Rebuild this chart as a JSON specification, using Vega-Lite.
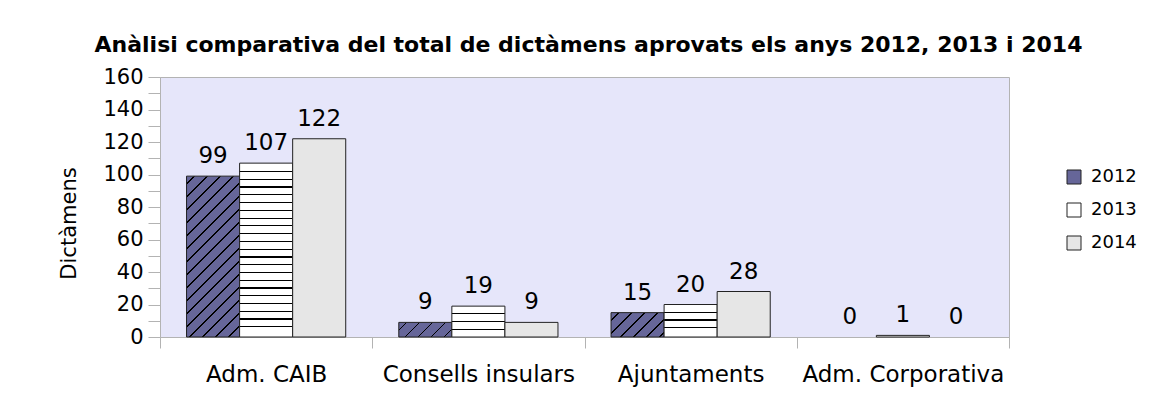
{
  "$schema": "https://vega.github.io/schema/vega-lite/v6.json",
  "width": 849,
  "height": 260,
  "autosize": {"type": "none"},
  "padding": {"left": 160, "top": 77, "right": 148, "bottom": 72},
  "background": "white",
  "title": {"text": "Anàlisi comparativa del total de dictàmens aprovats els anys 2012, 2013 i 2014", "font": "DejaVu Sans", "fontSize": 22, "fontWeight": "bold", "color": "#000000", "anchor": "middle", "offset": 9, "dx": 4},
  "config": {
    "view": {"fill": "#E6E6FA", "stroke": "#B3B3B3", "strokeWidth": 1},
    "axis": {"grid": false, "domainColor": "#B3B3B3", "tickColor": "#B3B3B3", "labelColor": "#000000", "titleColor": "#000000", "labelFont": "DejaVu Sans", "titleFont": "DejaVu Sans"}
  },
  "data": {"values": [
    {"cat": "Adm. CAIB", "year": "2012", "value": 99},
    {"cat": "Adm. CAIB", "year": "2013", "value": 107},
    {"cat": "Adm. CAIB", "year": "2014", "value": 122},
    {"cat": "Consells insulars", "year": "2012", "value": 9},
    {"cat": "Consells insulars", "year": "2013", "value": 19},
    {"cat": "Consells insulars", "year": "2014", "value": 9},
    {"cat": "Ajuntaments", "year": "2012", "value": 15},
    {"cat": "Ajuntaments", "year": "2013", "value": 20},
    {"cat": "Ajuntaments", "year": "2014", "value": 28},
    {"cat": "Adm. Corporativa", "year": "2012", "value": 0},
    {"cat": "Adm. Corporativa", "year": "2013", "value": 1},
    {"cat": "Adm. Corporativa", "year": "2014", "value": 0}
  ]},
  "encoding": {
    "x": {"field": "cat", "type": "nominal", "sort": ["Adm. CAIB", "Consells insulars", "Ajuntaments", "Adm. Corporativa"], "scale": {"paddingInner": 0, "paddingOuter": 0}, "title": null,
      "axis": {"labelAngle": 0, "labelFontSize": 23, "labelPadding": 15, "tickSize": 11, "tickBand": "extent", "labelLimit": 400, "labelOverlap": false, "domainColor": "#B3B3B3"}},
    "xOffset": {"field": "year", "type": "nominal", "scale": {"domain": ["2012", "2013", "2014"], "paddingInner": 0, "paddingOuter": 0.5}},
    "y": {"field": "value", "type": "quantitative", "scale": {"domain": [0, 160], "nice": false}, "title": "Dictàmens",
      "axis": {"values": [0, 10, 20, 30, 40, 50, 60, 70, 80, 90, 100, 110, 120, 130, 140, 150, 160], "labelExpr": "datum.value % 20 === 0 ? datum.label : ''", "labelFontSize": 21, "tickSize": 12, "labelPadding": 5, "titleFontSize": 21, "titleFontWeight": "normal", "titleAngle": -90, "titleX": -91, "titleY": 146, "titleAlign": "center", "titleBaseline": "middle"}}
  },
  "layer": [
    {
      "transform": [{"filter": "datum.value > 0"}],
      "mark": {"type": "bar", "stroke": "#222222", "strokeWidth": 1},
      "encoding": {
        "fill": {
          "field": "year", "type": "nominal",
          "scale": {"domain": ["2012", "2013", "2014"], "range": ["#666699", "#ffffff", "#e6e6e6"]},
          "legend": {"orient": "none", "legendX": 905, "legendY": 91, "title": null, "padding": 0, "symbolType": "square", "symbolSize": 196, "symbolStrokeColor": "#222222", "symbolStrokeWidth": 1, "labelFont": "DejaVu Sans", "labelFontSize": 18, "labelColor": "#000000", "labelOffset": 8, "rowPadding": 15,
            "encode": {"symbols": {"update": {
              "stroke": {"value": "#222222"},
              "strokeWidth": {"value": 1}
            }}}
          },
          "condition": [
            {"test": "datum.year === '2012' && datum.cat === 'Adm. CAIB'", "value": {"gradient": "linear", "x1": 0, "y1": 0, "x2": 0.3956, "y2": 1.1994, "stops": [
              {"offset": 0, "color": "#666699"},
              {"offset": 0.0327, "color": "#666699"}, {"offset": 0.0327, "color": "#000000"}, {"offset": 0.0402, "color": "#000000"}, {"offset": 0.0402, "color": "#666699"},
              {"offset": 0.0935, "color": "#666699"}, {"offset": 0.0935, "color": "#000000"}, {"offset": 0.1010, "color": "#000000"}, {"offset": 0.1010, "color": "#666699"},
              {"offset": 0.1543, "color": "#666699"}, {"offset": 0.1543, "color": "#000000"}, {"offset": 0.1618, "color": "#000000"}, {"offset": 0.1618, "color": "#666699"},
              {"offset": 0.2151, "color": "#666699"}, {"offset": 0.2151, "color": "#000000"}, {"offset": 0.2225, "color": "#000000"}, {"offset": 0.2225, "color": "#666699"},
              {"offset": 0.2758, "color": "#666699"}, {"offset": 0.2758, "color": "#000000"}, {"offset": 0.2833, "color": "#000000"}, {"offset": 0.2833, "color": "#666699"},
              {"offset": 0.3366, "color": "#666699"}, {"offset": 0.3366, "color": "#000000"}, {"offset": 0.3441, "color": "#000000"}, {"offset": 0.3441, "color": "#666699"},
              {"offset": 0.3974, "color": "#666699"}, {"offset": 0.3974, "color": "#000000"}, {"offset": 0.4049, "color": "#000000"}, {"offset": 0.4049, "color": "#666699"},
              {"offset": 0.4582, "color": "#666699"}, {"offset": 0.4582, "color": "#000000"}, {"offset": 0.4657, "color": "#000000"}, {"offset": 0.4657, "color": "#666699"},
              {"offset": 0.5190, "color": "#666699"}, {"offset": 0.5190, "color": "#000000"}, {"offset": 0.5265, "color": "#000000"}, {"offset": 0.5265, "color": "#666699"},
              {"offset": 0.5798, "color": "#666699"}, {"offset": 0.5798, "color": "#000000"}, {"offset": 0.5873, "color": "#000000"}, {"offset": 0.5873, "color": "#666699"},
              {"offset": 0.6405, "color": "#666699"}, {"offset": 0.6405, "color": "#000000"}, {"offset": 0.6480, "color": "#000000"}, {"offset": 0.6480, "color": "#666699"},
              {"offset": 0.7013, "color": "#666699"}, {"offset": 0.7013, "color": "#000000"}, {"offset": 0.7088, "color": "#000000"}, {"offset": 0.7088, "color": "#666699"},
              {"offset": 0.7621, "color": "#666699"}, {"offset": 0.7621, "color": "#000000"}, {"offset": 0.7696, "color": "#000000"}, {"offset": 0.7696, "color": "#666699"},
              {"offset": 0.8229, "color": "#666699"}, {"offset": 0.8229, "color": "#000000"}, {"offset": 0.8304, "color": "#000000"}, {"offset": 0.8304, "color": "#666699"},
              {"offset": 0.8837, "color": "#666699"}, {"offset": 0.8837, "color": "#000000"}, {"offset": 0.8912, "color": "#000000"}, {"offset": 0.8912, "color": "#666699"},
              {"offset": 0.9445, "color": "#666699"}, {"offset": 0.9445, "color": "#000000"}, {"offset": 0.9519, "color": "#000000"}, {"offset": 0.9519, "color": "#666699"},
              {"offset": 1, "color": "#666699"}]}},
            {"test": "datum.year === '2012' && datum.cat === 'Consells insulars'", "value": {"gradient": "linear", "x1": 0, "y1": 0, "x2": 1.1856, "y2": 0.3268, "stops": [
              {"offset": 0, "color": "#666699"},
              {"offset": 0.1034, "color": "#666699"}, {"offset": 0.1034, "color": "#000000"}, {"offset": 0.1271, "color": "#000000"}, {"offset": 0.1271, "color": "#666699"},
              {"offset": 0.2955, "color": "#666699"}, {"offset": 0.2955, "color": "#000000"}, {"offset": 0.3191, "color": "#000000"}, {"offset": 0.3191, "color": "#666699"},
              {"offset": 0.4875, "color": "#666699"}, {"offset": 0.4875, "color": "#000000"}, {"offset": 0.5111, "color": "#000000"}, {"offset": 0.5111, "color": "#666699"},
              {"offset": 0.6796, "color": "#666699"}, {"offset": 0.6796, "color": "#000000"}, {"offset": 0.7032, "color": "#000000"}, {"offset": 0.7032, "color": "#666699"},
              {"offset": 0.8716, "color": "#666699"}, {"offset": 0.8716, "color": "#000000"}, {"offset": 0.8953, "color": "#000000"}, {"offset": 0.8953, "color": "#666699"},
              {"offset": 1, "color": "#666699"}]}},
            {"test": "datum.year === '2012' && datum.cat === 'Ajuntaments'", "value": {"gradient": "linear", "x1": 0, "y1": 0, "x2": 1.2051, "y2": 0.5536, "stops": [
              {"offset": 0, "color": "#666699"},
              {"offset": 0.0904, "color": "#666699"}, {"offset": 0.0904, "color": "#000000"}, {"offset": 0.1111, "color": "#000000"}, {"offset": 0.1111, "color": "#666699"},
              {"offset": 0.2583, "color": "#666699"}, {"offset": 0.2583, "color": "#000000"}, {"offset": 0.2789, "color": "#000000"}, {"offset": 0.2789, "color": "#666699"},
              {"offset": 0.4261, "color": "#666699"}, {"offset": 0.4261, "color": "#000000"}, {"offset": 0.4468, "color": "#000000"}, {"offset": 0.4468, "color": "#666699"},
              {"offset": 0.5940, "color": "#666699"}, {"offset": 0.5940, "color": "#000000"}, {"offset": 0.6147, "color": "#000000"}, {"offset": 0.6147, "color": "#666699"},
              {"offset": 0.7619, "color": "#666699"}, {"offset": 0.7619, "color": "#000000"}, {"offset": 0.7825, "color": "#000000"}, {"offset": 0.7825, "color": "#666699"},
              {"offset": 0.9297, "color": "#666699"}, {"offset": 0.9297, "color": "#000000"}, {"offset": 0.9504, "color": "#000000"}, {"offset": 0.9504, "color": "#666699"},
              {"offset": 1, "color": "#666699"}]}},
            {"test": "datum.year === '2013' && datum.cat === 'Adm. CAIB'", "value": {"gradient": "linear", "x1": 0, "y1": 0, "x2": 0, "y2": 1, "stops": [
              {"offset": 0, "color": "#ffffff"},
              {"offset": 0.0447, "color": "#ffffff"}, {"offset": 0.0447, "color": "#000000"}, {"offset": 0.0516, "color": "#000000"}, {"offset": 0.0516, "color": "#ffffff"},
              {"offset": 0.0894, "color": "#ffffff"}, {"offset": 0.0894, "color": "#000000"}, {"offset": 0.0963, "color": "#000000"}, {"offset": 0.0963, "color": "#ffffff"},
              {"offset": 0.1340, "color": "#ffffff"}, {"offset": 0.1340, "color": "#000000"}, {"offset": 0.1409, "color": "#000000"}, {"offset": 0.1409, "color": "#ffffff"},
              {"offset": 0.1787, "color": "#ffffff"}, {"offset": 0.1787, "color": "#000000"}, {"offset": 0.1856, "color": "#000000"}, {"offset": 0.1856, "color": "#ffffff"},
              {"offset": 0.2234, "color": "#ffffff"}, {"offset": 0.2234, "color": "#000000"}, {"offset": 0.2303, "color": "#000000"}, {"offset": 0.2303, "color": "#ffffff"},
              {"offset": 0.2681, "color": "#ffffff"}, {"offset": 0.2681, "color": "#000000"}, {"offset": 0.2750, "color": "#000000"}, {"offset": 0.2750, "color": "#ffffff"},
              {"offset": 0.3128, "color": "#ffffff"}, {"offset": 0.3128, "color": "#000000"}, {"offset": 0.3197, "color": "#000000"}, {"offset": 0.3197, "color": "#ffffff"},
              {"offset": 0.3574, "color": "#ffffff"}, {"offset": 0.3574, "color": "#000000"}, {"offset": 0.3643, "color": "#000000"}, {"offset": 0.3643, "color": "#ffffff"},
              {"offset": 0.4021, "color": "#ffffff"}, {"offset": 0.4021, "color": "#000000"}, {"offset": 0.4090, "color": "#000000"}, {"offset": 0.4090, "color": "#ffffff"},
              {"offset": 0.4468, "color": "#ffffff"}, {"offset": 0.4468, "color": "#000000"}, {"offset": 0.4537, "color": "#000000"}, {"offset": 0.4537, "color": "#ffffff"},
              {"offset": 0.4915, "color": "#ffffff"}, {"offset": 0.4915, "color": "#000000"}, {"offset": 0.4984, "color": "#000000"}, {"offset": 0.4984, "color": "#ffffff"},
              {"offset": 0.5362, "color": "#ffffff"}, {"offset": 0.5362, "color": "#000000"}, {"offset": 0.5431, "color": "#000000"}, {"offset": 0.5431, "color": "#ffffff"},
              {"offset": 0.5808, "color": "#ffffff"}, {"offset": 0.5808, "color": "#000000"}, {"offset": 0.5877, "color": "#000000"}, {"offset": 0.5877, "color": "#ffffff"},
              {"offset": 0.6255, "color": "#ffffff"}, {"offset": 0.6255, "color": "#000000"}, {"offset": 0.6324, "color": "#000000"}, {"offset": 0.6324, "color": "#ffffff"},
              {"offset": 0.6702, "color": "#ffffff"}, {"offset": 0.6702, "color": "#000000"}, {"offset": 0.6771, "color": "#000000"}, {"offset": 0.6771, "color": "#ffffff"},
              {"offset": 0.7149, "color": "#ffffff"}, {"offset": 0.7149, "color": "#000000"}, {"offset": 0.7218, "color": "#000000"}, {"offset": 0.7218, "color": "#ffffff"},
              {"offset": 0.7596, "color": "#ffffff"}, {"offset": 0.7596, "color": "#000000"}, {"offset": 0.7665, "color": "#000000"}, {"offset": 0.7665, "color": "#ffffff"},
              {"offset": 0.8042, "color": "#ffffff"}, {"offset": 0.8042, "color": "#000000"}, {"offset": 0.8111, "color": "#000000"}, {"offset": 0.8111, "color": "#ffffff"},
              {"offset": 0.8489, "color": "#ffffff"}, {"offset": 0.8489, "color": "#000000"}, {"offset": 0.8558, "color": "#000000"}, {"offset": 0.8558, "color": "#ffffff"},
              {"offset": 0.8936, "color": "#ffffff"}, {"offset": 0.8936, "color": "#000000"}, {"offset": 0.9005, "color": "#000000"}, {"offset": 0.9005, "color": "#ffffff"},
              {"offset": 0.9383, "color": "#ffffff"}, {"offset": 0.9383, "color": "#000000"}, {"offset": 0.9452, "color": "#000000"}, {"offset": 0.9452, "color": "#ffffff"},
              {"offset": 1, "color": "#ffffff"}]}},
            {"test": "datum.year === '2013' && datum.cat === 'Consells insulars'", "value": {"gradient": "linear", "x1": 0, "y1": 0, "x2": 0, "y2": 1, "stops": [
              {"offset": 0, "color": "#ffffff"},
              {"offset": 0.2316, "color": "#ffffff"}, {"offset": 0.2316, "color": "#000000"}, {"offset": 0.2704, "color": "#000000"}, {"offset": 0.2704, "color": "#ffffff"},
              {"offset": 0.4826, "color": "#ffffff"}, {"offset": 0.4826, "color": "#000000"}, {"offset": 0.5214, "color": "#000000"}, {"offset": 0.5214, "color": "#ffffff"},
              {"offset": 0.7336, "color": "#ffffff"}, {"offset": 0.7336, "color": "#000000"}, {"offset": 0.7724, "color": "#000000"}, {"offset": 0.7724, "color": "#ffffff"},
              {"offset": 1, "color": "#ffffff"}]}},
            {"test": "datum.year === '2013' && datum.cat === 'Ajuntaments'", "value": {"gradient": "linear", "x1": 0, "y1": 0, "x2": 0, "y2": 1, "stops": [
              {"offset": 0, "color": "#ffffff"},
              {"offset": 0.2200, "color": "#ffffff"}, {"offset": 0.2200, "color": "#000000"}, {"offset": 0.2570, "color": "#000000"}, {"offset": 0.2570, "color": "#ffffff"},
              {"offset": 0.4584, "color": "#ffffff"}, {"offset": 0.4584, "color": "#000000"}, {"offset": 0.4954, "color": "#000000"}, {"offset": 0.4954, "color": "#ffffff"},
              {"offset": 0.6969, "color": "#ffffff"}, {"offset": 0.6969, "color": "#000000"}, {"offset": 0.7339, "color": "#000000"}, {"offset": 0.7339, "color": "#ffffff"},
              {"offset": 1, "color": "#ffffff"}]}}
          ]
        }
      }
    },
    {
      "mark": {"type": "text", "dy": -13, "baseline": "alphabetic", "align": "center", "font": "DejaVu Sans", "fontSize": 23, "color": "#000000"},
      "encoding": {"text": {"field": "value", "type": "quantitative"}}
    }
  ]
}
